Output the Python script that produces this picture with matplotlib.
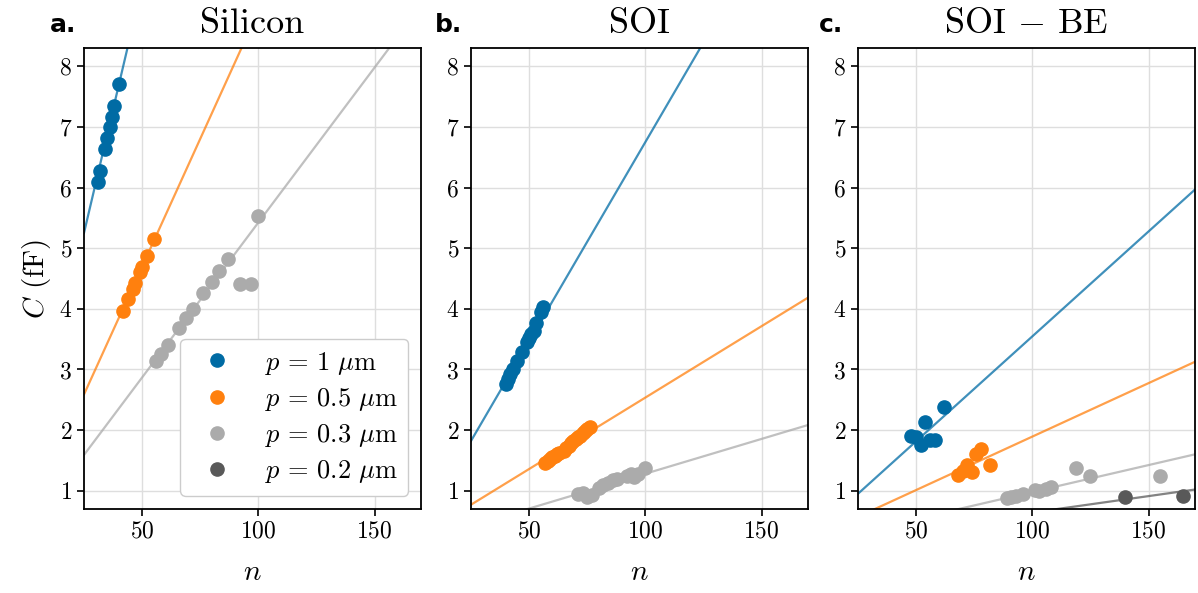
import numpy as np
import matplotlib
matplotlib.use('Agg')
import matplotlib.pyplot as plt

plt.rcParams['font.family'] = 'serif'
plt.rcParams['font.serif'] = ['cmr10']
plt.rcParams['mathtext.fontset'] = 'cm'
plt.rcParams['axes.formatter.use_mathtext'] = True
plt.rcParams['axes.unicode_minus'] = False

# couleurs (tableau colorblind)
cores = ['#006BA4', '#FF800E', '#ABABAB', '#595959']
rotulos = [r'$p\,=\,1\ \mu$m', r'$p\,=\,0.5\ \mu$m', r'$p\,=\,0.3\ \mu$m', r'$p\,=\,0.2\ \mu$m']

# Painel a: Silicon
si_n1 = [31, 32, 34, 35, 36, 37, 38, 40]
si_c1 = [6.09, 6.27, 6.63, 6.81, 6.99, 7.17, 7.35, 7.71]
si_n05 = [42, 44, 46, 47, 49, 50, 52, 55]
si_c05 = [3.97, 4.16, 4.33, 4.42, 4.60, 4.69, 4.87, 5.15]
si_n03 = [56, 58, 61, 66, 69, 72, 76, 80, 83, 87, 92, 97, 100]
si_c03 = [3.14, 3.26, 3.41, 3.68, 3.85, 4.00, 4.26, 4.44, 4.63, 4.82, 4.41, 4.41, 5.53]

# Painel b: SOI
soi_n1 = [40, 41, 42, 43, 45, 47, 49, 50, 51, 52, 53, 55, 56]
soi_c1 = [2.76, 2.85, 2.93, 3.00, 3.14, 3.28, 3.45, 3.52, 3.58, 3.64, 3.76, 3.94, 4.03]
soi_n05 = [57, 58, 59, 60, 61, 62, 63, 65, 66, 67, 68, 69, 70, 71, 72, 73, 74, 75, 76]
soi_c05 = [1.46, 1.49, 1.52, 1.55, 1.58, 1.60, 1.63, 1.66, 1.70, 1.74, 1.78, 1.82, 1.85, 1.88, 1.91, 1.95, 1.98, 2.02, 2.05]
soi_n03 = [71, 73, 75, 77, 80, 82, 84, 86, 88, 92, 94, 95, 97, 100]
soi_c03 = [0.95, 0.97, 0.90, 0.93, 1.05, 1.10, 1.13, 1.17, 1.20, 1.25, 1.28, 1.22, 1.27, 1.38]

# Painel c: SOI - BE
be_n1 = [48, 50, 52, 54, 56, 58, 62]
be_c1 = [1.90, 1.88, 1.75, 2.14, 1.84, 1.83, 2.38]
be_n05 = [68, 70, 72, 74, 76, 78, 82]
be_c05 = [1.26, 1.33, 1.43, 1.31, 1.60, 1.69, 1.43]
be_n03 = [89, 91, 93, 96, 101, 103, 106, 108, 119, 125, 155]
be_c03 = [0.88, 0.89, 0.91, 0.94, 1.02, 0.99, 1.03, 1.06, 1.37, 1.24, 1.24]
be_n02 = [140, 165]
be_c02 = [0.89, 0.92]

# ajustes lineares C = a*n + b  (inclinacao, intercepto)
si_ajuste = [(0.163, 1.175), (0.0843, 0.48), (0.0511, 0.313)]
soi_ajuste = [(0.0657, 0.178), (0.02355, 0.181), (0.01148, 0.133)]
be_ajuste = [(0.0346, 0.085), (0.01763, 0.13), (0.00887, 0.093), (0.00542, 0.099)]

paineis = [
    ('a.', 'Silicon', [(si_n1, si_c1), (si_n05, si_c05), (si_n03, si_c03)], si_ajuste),
    ('b.', 'SOI', [(soi_n1, soi_c1), (soi_n05, soi_c05), (soi_n03, soi_c03)], soi_ajuste),
    ('c.', r'SOI $-$ BE', [(be_n1, be_c1), (be_n05, be_c05), (be_n03, be_c03), (be_n02, be_c02)], be_ajuste),
]

fig, axs = plt.subplots(1, 3, figsize=(11.98, 5.93), dpi=100)
plt.subplots_adjust(left=0.0701, right=0.9975, bottom=0.1417, top=0.919, wspace=0.148)

xx = np.linspace(25, 170, 200)
letra_x = [50, 435, 819]

for i, (letra, titulo, series, ajuste) in enumerate(paineis):
    ax = axs[i]
    for j, ((n, c), (a, b)) in enumerate(zip(series, ajuste)):
        ax.plot(xx, a * xx + b, color=cores[j], alpha=0.75, lw=1.6, zorder=2)
    for j, (n, c) in enumerate(series):
        ax.plot(n, c, 'o', color=cores[j], ms=9.5, zorder=3)
    ax.set_xlim(25, 170)
    ax.set_ylim(0.7, 8.3)
    ax.set_xticks([50, 100, 150])
    ax.set_yticks(range(1, 9))
    ax.grid(True, color='#dedede', lw=1.0)
    ax.set_axisbelow(True)
    ax.tick_params(labelsize=17, length=5, width=1.2, direction='out')
    for s in ax.spines.values():
        s.set_linewidth(1.3)
    ax.set_xlabel(r'$n$', fontsize=21, labelpad=12)
    ax.set_title(titulo, fontsize=26, pad=11)
    fig.text(letra_x[i] / 1198, 1 - 32 / 593, letra, fontsize=18, fontweight='bold',
             family='DejaVu Sans', va='baseline')

axs[0].set_ylabel(r'$C$ (fF)', fontsize=21)

# legenda so com marcadores
alcas = [axs[0].plot([], [], 'o', color=cores[k], ms=9.5, label=rotulos[k])[0] for k in range(4)]
axs[0].legend(handles=alcas, loc='lower right', fontsize=19, framealpha=1,
              edgecolor='#cccccc', borderaxespad=0.5, labelspacing=0.35)

plt.savefig('out.png', dpi=100)
